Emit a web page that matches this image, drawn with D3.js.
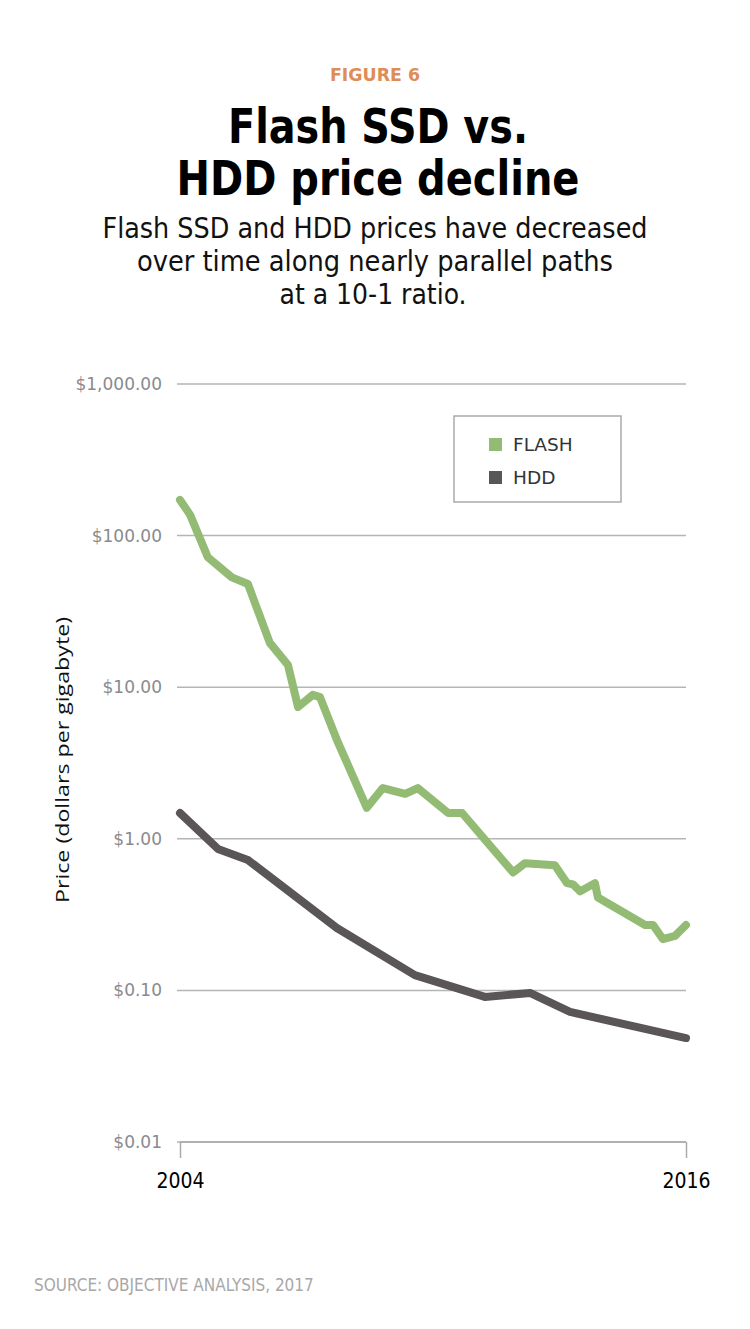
<!DOCTYPE html>
<html><head><meta charset="utf-8">
<script src="https://cdn.jsdelivr.net/npm/d3@7/dist/d3.min.js"></script>
<style>body{margin:0;background:#fff}</style>
</head><body>
<script>
const flashYears = [2004.0,2004.24,2004.66,2005.23,2005.61,2006.13,2006.56,2006.8,2007.15,2007.32,2007.72,2008.43,2008.81,2009.34,2009.64,2010.36,2010.69,2011.9,2012.18,2012.89,2013.18,2013.32,2013.49,2013.84,2013.91,2015.03,2015.22,2015.45,2015.74,2016.0];
const flashPrices = [172,137,72,53,48,19.6,14,7.4,8.9,8.6,4.5,1.6,2.16,1.98,2.16,1.48,1.48,0.60,0.69,0.67,0.51,0.50,0.45,0.51,0.41,0.27,0.27,0.218,0.229,0.27];
const hddYears = [2004.0,2004.9,2005.61,2007.72,2009.57,2011.23,2012.3,2013.25,2016.0];
const hddPrices = [1.48,0.857,0.725,0.258,0.126,0.0906,0.0962,0.0721,0.0485];
const yTicks = [1000,100,10,1,0.1,0.01];
const yTickLabels = ["$1,000.00","$100.00","$10.00","$1.00","$0.10","$0.01"];
const xTicks = [2004,2016];
const seriesNames = ["FLASH","HDD"];
const seriesColors = ["#93bb74","#5a5657"];

const W=750,H=1329;
const svg=d3.select("body").append("svg").attr("width",W).attr("height",H);
const narrow="'DejaVu Sans Condensed','Liberation Sans Narrow',sans-serif";
const os="'Open Sans','DejaVu Sans',sans-serif";
const dv="'DejaVu Sans',Verdana,sans-serif";

function fit(sel,len){ sel.attr("textLength",len).attr("lengthAdjust","spacingAndGlyphs"); return sel; }

fit(svg.append("text").attr("x",375).attr("y",81).attr("text-anchor","middle")
 .attr("font-family",narrow).attr("font-weight","bold").attr("font-size",18).attr("fill","#dd8d55").text("FIGURE 6"),90);
[["Flash SSD vs.",143,300,378],["HDD price decline",195,403,378]].forEach(([t,y,l,cx])=>{
 fit(svg.append("text").attr("x",cx).attr("y",y).attr("text-anchor","middle")
 .attr("font-family",narrow).attr("font-weight","bold").attr("font-size",48).attr("fill","#000").text(t),l);
});
[["Flash SSD and HDD prices have decreased",238,545,375],["over time along nearly parallel paths",271,476,375],["at a 10-1 ratio.",304,187,373]].forEach(([t,y,l,cx])=>{
 fit(svg.append("text").attr("x",cx).attr("y",y).attr("text-anchor","middle")
 .attr("font-family",narrow).attr("font-size",28).attr("fill","#111").text(t),l);
});

const x=d3.scaleLinear().domain([2004,2016]).range([180,686]);
const y=d3.scaleLog().domain([0.01,1000]).range([1142,384]);

const g=svg.append("g");
g.selectAll("line.grid").data(yTicks).join("line").attr("class","grid")
 .attr("x1",177).attr("x2",686).attr("y1",d=>y(d)).attr("y2",d=>y(d))
 .attr("stroke","#b5b5b5").attr("stroke-width",1.5);
g.selectAll("text.yl").data(yTicks).join("text").attr("class","yl")
 .attr("x",162).attr("y",d=>y(d)+6).attr("text-anchor","end")
 .attr("font-family",dv).attr("font-size",17).attr("fill","#8a8a8e")
 .text((d,i)=>yTickLabels[i]);

const xa=svg.append("g").attr("transform","translate(0,1142)")
 .call(d3.axisBottom(x).tickValues(xTicks).tickSize(16).tickFormat(d3.format("d")));
xa.select(".domain").attr("stroke","#aaa").attr("stroke-width",1.5).attr("d","M180,0H686");
xa.selectAll(".tick line").attr("stroke","#aaa").attr("stroke-width",1.5);
xa.selectAll(".tick text").attr("font-family",narrow).attr("font-size",21).attr("fill","#000").attr("dy",0).attr("y",46);

fit(svg.append("text").attr("transform","translate(69,760) rotate(-90)").attr("text-anchor","middle")
 .attr("font-family",os).attr("font-size",19).attr("fill","#111").text("Price (dollars per gigabyte)"),286);

const line=d3.line().x(d=>x(d[0])).y(d=>y(d[1]));
const hdd=hddYears.map((v,i)=>[v,hddPrices[i]]);
const flash=flashYears.map((v,i)=>[v,flashPrices[i]]);
svg.append("path").datum(hdd).attr("d",line).attr("fill","none").attr("stroke",seriesColors[1])
 .attr("stroke-width",8).attr("stroke-linejoin","round").attr("stroke-linecap","round");
svg.append("path").datum(flash).attr("d",line).attr("fill","none").attr("stroke",seriesColors[0])
 .attr("stroke-width",8).attr("stroke-linejoin","round").attr("stroke-linecap","round");

const lg=svg.append("g");
lg.append("rect").attr("x",454).attr("y",416).attr("width",167).attr("height",86).attr("fill","#fff").attr("stroke","#aaa").attr("stroke-width",1.5);
seriesNames.forEach((n,i)=>{
 lg.append("rect").attr("x",489).attr("y",438+i*33).attr("width",13).attr("height",13).attr("fill",seriesColors[i]);
 lg.append("text").attr("x",513).attr("y",451+i*33).attr("font-family",dv).attr("font-size",18.5).attr("fill","#333").text(n);
});

svg.append("text").attr("x",34).attr("y",1291).attr("font-family",narrow).attr("font-size",17).attr("fill","#a8a8a8").text("SOURCE: OBJECTIVE ANALYSIS, 2017");
</script>
</body></html>
